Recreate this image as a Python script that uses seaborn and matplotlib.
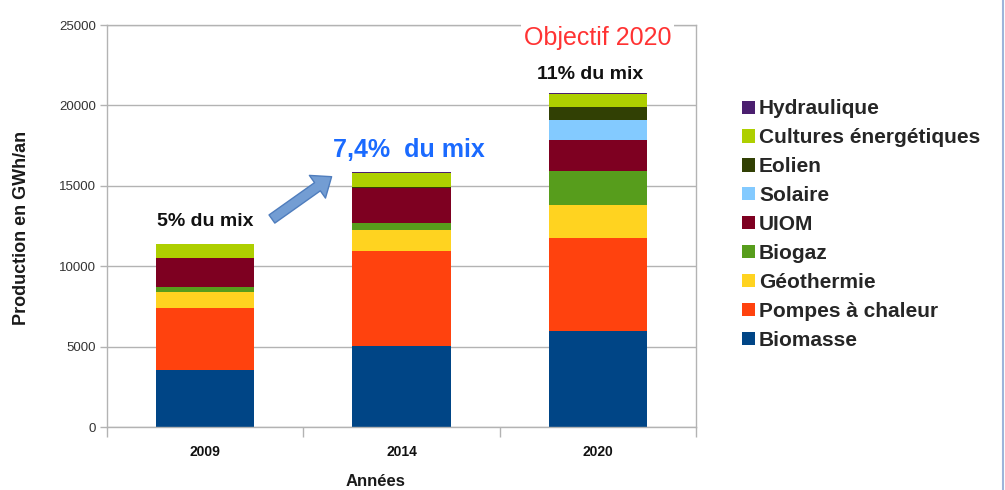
import numpy as np
import pandas as pd
import matplotlib
matplotlib.use("Agg")
import matplotlib.pyplot as plt
import seaborn as sns
from matplotlib.patches import Patch
from matplotlib.lines import Line2D

# ---- data ----
years = ["2009", "2014", "2020"]
biomasse = [3570, 5040, 5970]
pompes = [3810, 5920, 5760]
geothermie = [1010, 1290, 2100]
biogaz = [310, 410, 2060]
uiom = [1810, 2180, 1930]
solaire = [20, 40, 1290]
eolien = [10, 20, 790]
cultures = [810, 920, 800]
hydraulique = [30, 60, 60]

series_names = ["Biomasse", "Pompes à chaleur", "Géothermie", "Biogaz", "UIOM",
                "Solaire", "Eolien", "Cultures énergétiques", "Hydraulique"]
series_values = [biomasse, pompes, geothermie, biogaz, uiom, solaire, eolien, cultures, hydraulique]
colors = ["#004586", "#ff420e", "#ffd320", "#579d1c", "#7e0021",
          "#83caff", "#314004", "#aecf00", "#4b1f6f"]

sns.set_theme(style="white")
plt.rcParams["font.family"] = ["Liberation Sans", "DejaVu Sans"]

fig = plt.figure(figsize=(10.05, 4.9), dpi=100)
ax = fig.add_axes([107/1005, 1-427/490, (696-107)/1005, (427-25)/490])

bottom = np.zeros(len(years))
for name, vals, col in zip(series_names, series_values, colors):
    df = pd.DataFrame({"year": years, "val": vals})
    sns.barplot(data=df, x="year", y="val", color=col, width=0.5, ax=ax,
                bottom=bottom.copy(), linewidth=0, saturation=1, errorbar=None)
    bottom += np.array(vals)

ax.set_xlim(-0.5, 2.5)
ax.set_ylim(0, 25000)
ax.set_yticks(np.arange(0, 25001, 5000))
ax.yaxis.grid(True, color="#b3b3b3", lw=1)
ax.set_axisbelow(True)
for s in ax.spines.values():
    s.set_color("#b3b3b3")
    s.set_linewidth(1)

ax.set_xticks([0, 1, 2])
ax.set_xticks([-0.5, 0.5, 1.5, 2.5], minor=True)
ax.tick_params(axis="x", which="major", length=0, pad=13, labelsize=10, labelcolor="#111111")
ax.tick_params(axis="x", which="minor", length=7, color="#b3b3b3", width=1, bottom=True)
ax.tick_params(axis="y", length=5, color="#b3b3b3", width=1, left=True, labelsize=9.5,
               labelcolor="#333333", pad=3)
for lab in ax.get_xticklabels():
    lab.set_fontweight("bold")

ax.set_xlabel("Années", fontsize=12, fontweight="bold", color="#1a1a1a")
ax.xaxis.set_label_coords((376-107)/589, -(474-427)/402)
ax.set_ylabel("Production en GWh/an", fontsize=13, fontweight="bold", color="#1a1a1a")
ax.yaxis.set_label_coords(-(107-30)/589, (427-228)/402)

# annotations
ax.text(2, 24190, "Objectif 2020", ha="center", va="center", fontsize=18, color="#ff3333",
        bbox=dict(facecolor="white", edgecolor="none", pad=2), zorder=5)
ax.text(1.96, 21900, "11% du mix", ha="center", va="center", fontsize=14,
        fontweight="bold", color="#111111")
ax.text(0.0, 12750, "5% du mix", ha="center", va="center", fontsize=14,
        fontweight="bold", color="#111111")
ax.text(1.04, 17230, "7,4%  du mix", ha="center", va="center", fontsize=18,
        fontweight="bold", color="#1a6aff")
ax.annotate("", xy=(0.644, 15566), xytext=(0.340, 12935),
            arrowprops=dict(arrowstyle="simple,head_length=1.25,head_width=2.0,tail_width=0.72",
                            mutation_scale=10, fc="#739dd3", ec="#4f7dbd", lw=1,
                            shrinkA=0, shrinkB=0))

# legend
handles = [Patch(facecolor=c, edgecolor="none") for c in colors][::-1]
labels = series_names[::-1]
fig.legend(handles, labels, loc="upper left", bbox_to_anchor=(742/1005, 1-99.5/490),
           frameon=False, prop=dict(family="Liberation Sans", weight="bold", size=15),
           handlelength=0.6, handleheight=0.6, handletextpad=0.22, labelspacing=0.475,
           borderpad=0, borderaxespad=0)

# right border line
fig.add_artist(Line2D([1002.5/1005, 1002.5/1005], [0, 1], transform=fig.transFigure,
                      color="#9db4da", lw=1.5))

fig.savefig("out.png", dpi=100)
